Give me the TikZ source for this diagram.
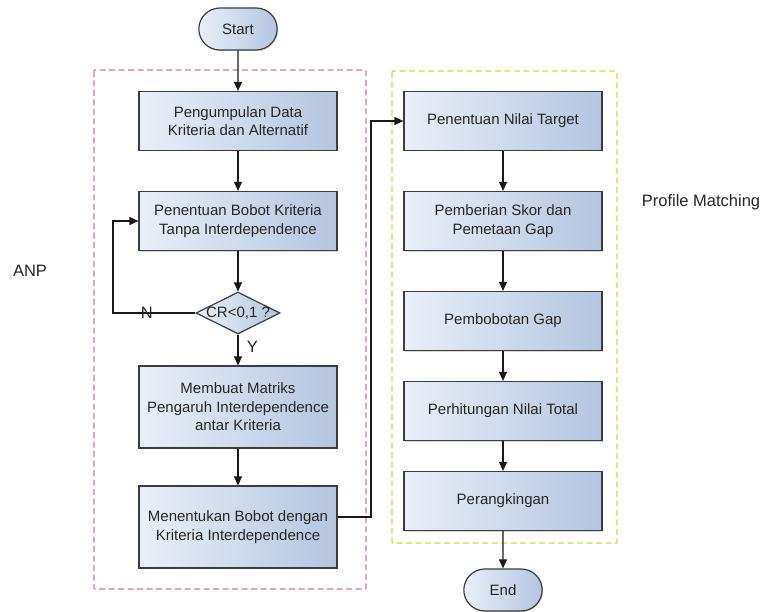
\documentclass[tikz,border=0pt]{standalone}
\usepackage{fontspec}
\setmainfont{Liberation Sans}
\usetikzlibrary{shapes.geometric,shapes.misc,arrows.meta,shadows}
\definecolor{boxL}{RGB}{234,239,248}
\definecolor{boxR}{RGB}{180,197,224}
\definecolor{edgec}{RGB}{60,60,60}
\definecolor{pinkd}{RGB}{208,120,165}
\definecolor{greend}{RGB}{190,225,70}
\begin{document}
\begin{tikzpicture}[x=1pt,y=-1pt,
  every node/.style={font=\fontsize{15}{18.5}\selectfont, text=black!85},
  biglabel/.style={font=\fontsize{16.5}{19.5}\selectfont},
  procbox/.style={draw=edgec, line width=1.2pt, left color=boxL, right color=boxR, minimum width=198pt, minimum height=59pt, align=center, inner sep=2pt, drop shadow={shadow xshift=1pt, shadow yshift=-1pt, opacity=0.3}},
  tallbox/.style={procbox, minimum height=82pt},
  termbox/.style={draw=edgec, line width=1.2pt, left color=boxL, right color=boxR, rounded rectangle, minimum width=85pt, minimum height=42pt, drop shadow={shadow xshift=1pt, shadow yshift=-1pt, opacity=0.3}},
  decbox/.style={draw=edgec, line width=1.2pt, left color=boxL, right color=boxR, diamond, aspect=2, minimum width=84pt, minimum height=42pt, inner xsep=-7pt, inner ysep=0pt},
  conn/.style={draw=black!90, line width=1.2pt, -{Triangle[length=9pt,width=8pt]}},
  grp/.style={dashed, dash pattern=on 6pt off 3.5pt, line width=1.4pt}
]
\useasboundingbox (0,0) rectangle (762,612);
\fill[white] (0,0) rectangle (762,612);
% group frames
\draw[grp, pinkd, rounded corners=1pt] (94,70) rectangle (366,589);
\draw[grp, greend, rounded corners=1pt] (392,71) rectangle (617,543);
% nodes
\node[termbox] (start) at (238,29) {Start};
\node[procbox] (b1) at (238,121) {Pengumpulan Data\\Kriteria dan Alternatif};
\node[procbox] (b2) at (238,221) {Penentuan Bobot Kriteria\\Tanpa Interdependence};
\node[decbox] (d1) at (238,313) {CR<0,1 ?};
\node[tallbox] (b3) at (238,407) {Membuat Matriks\\Pengaruh Interdependence\\antar Kriteria};
\node[tallbox] (b4) at (238,527) {Menentukan Bobot dengan\\Kriteria Interdependence};
\node[procbox] (c1) at (503,121) {Penentuan Nilai Target};
\node[procbox] (c2) at (503,221) {Pemberian Skor dan\\Pemetaan Gap};
\node[procbox] (c3) at (503,321) {Pembobotan Gap};
\node[procbox] (c4) at (503,411) {Perhitungan Nilai Total};
\node[procbox] (c5) at (503,501) {Perangkingan};
\node[termbox] (end) at (503,590) {End};
\node[biglabel] (anp) at (30,271) {ANP};
\node[biglabel] (pm) at (701,202) {Profile Matching};
\coordinate (lp) at (113,313);
\coordinate (rp) at (371,517);
% connectors
\draw[conn] (start) -- (b1);
\draw[conn] (b1) -- (b2);
\draw[conn] (b2) -- (d1);
\draw[conn] (d1) -- node[pos=0.4, right=5pt, biglabel] {Y} (b3);
\draw[conn] (d1.west) -- node[pos=0.59, inner sep=0pt, biglabel] {N} (lp) |- (b2.west);
\draw[conn] (b3) -- (b4);
\draw[conn] (b4.east |- rp) -- (rp) |- (c1.west);
\draw[conn] (c1) -- (c2);
\draw[conn] (c2) -- (c3);
\draw[conn] (c3) -- (c4);
\draw[conn] (c4) -- (c5);
\draw[conn] (c5) -- (end);
\end{tikzpicture}
\end{document}
